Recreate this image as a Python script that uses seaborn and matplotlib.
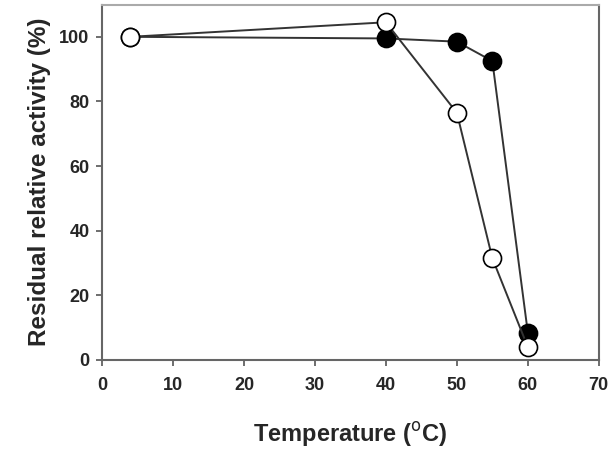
import numpy as np
import pandas as pd
import matplotlib
matplotlib.use("Agg")
import matplotlib.pyplot as plt
import seaborn as sns

# temperatures (°C) and residual activity (%)
temps = [4, 40, 50, 55, 60]
filled_vals = [100, 99.5, 98.5, 92.5, 8.5]
open_vals = [100, 104.5, 76.5, 31.5, 4]

df_filled = pd.DataFrame({'temp': temps, 'activity': filled_vals})
df_open = pd.DataFrame({'temp': temps, 'activity': open_vals})

sns.set_style('ticks')
plt.rcParams['font.family'] = ['Liberation Sans', 'DejaVu Sans']

fig, ax = plt.subplots(figsize=(6.11, 4.5), dpi=100)

sns.lineplot(data=df_filled, x='temp', y='activity', ax=ax, color='#333333',
             linewidth=1.4, marker='o', markersize=13, markerfacecolor='black',
             markeredgecolor='black', markeredgewidth=1.2)
sns.lineplot(data=df_open, x='temp', y='activity', ax=ax, color='#333333',
             linewidth=1.4, marker='o', markersize=13, markerfacecolor='white',
             markeredgecolor='black', markeredgewidth=1.2)

ax.set_xlim(0, 70)
ax.set_ylim(0, 110)
ax.set_xticks(range(0, 71, 10))
ax.set_yticks(range(0, 101, 20))
for lab in ax.get_xticklabels() + ax.get_yticklabels():
    lab.set_fontweight('bold')
    lab.set_fontsize(13)
ax.tick_params(direction='out', length=4, width=1.2, color='#555555')
ax.tick_params(axis='x', pad=8)
ax.tick_params(axis='y', pad=5)

for side in ['left', 'bottom', 'right', 'top']:
    ax.spines[side].set_visible(True)
    ax.spines[side].set_linewidth(1.5)
    ax.spines[side].set_color('#666666')
ax.spines['top'].set_color('#aaaaaa')

ax.set_xlabel('Temperature ($^{\\mathrm{o}}$C)', fontsize=17, fontweight='bold', labelpad=19)
ax.set_ylabel('Residual relative activity (%)', fontsize=17.5, fontweight='bold', labelpad=6)

fig.subplots_adjust(left=0.167, right=0.98, top=0.99, bottom=0.2)
plt.savefig('out.png', dpi=100)
